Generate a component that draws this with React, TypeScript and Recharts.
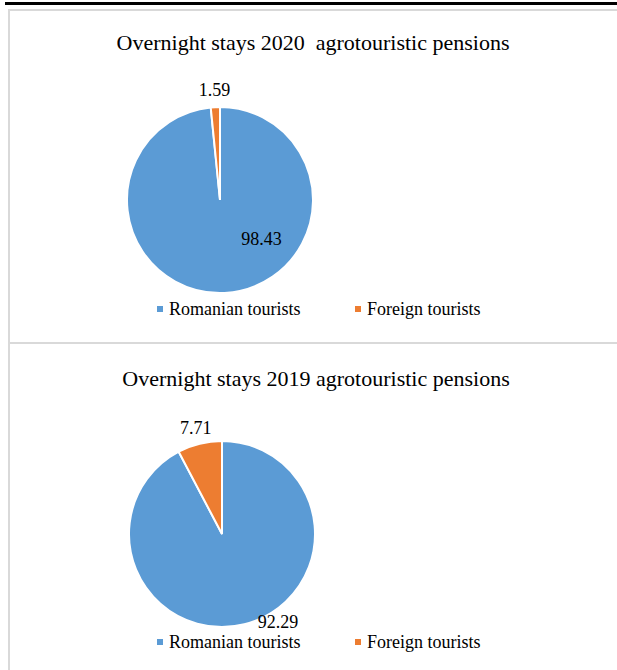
import { PieChart, Pie, Cell, Legend } from "recharts";

const CATEGORIES = ["Romanian tourists", "Foreign tourists"];
const STAYS_2020 = [98.43, 1.59];
const STAYS_2019 = [92.29, 7.71];
const COLORS = ["#5b9bd5", "#ed7d31"];

const FONT = '"Liberation Serif", "Times New Roman", serif';
const RAD = Math.PI / 180;

// label placement per slice: either along the slice's midAngle with a pixel offset
// outside the rim, or a fixed polar spot (Excel "best fit" look)
type Place = { offset?: number; angle?: number; r?: number };
const PLACE_2020: Place[] = [{ angle: -43, r: 0.61 }, { offset: 17 }];
const PLACE_2019: Place[] = [{ angle: -57.5, r: 1.12 }, { offset: 16 }];

const makeLabel = (place: Place[]) => (props: any) => {
  const { cx, cy, midAngle, outerRadius, index, value } = props;
  const p = place[index] ?? {};
  const a = p.angle ?? midAngle;
  const r = p.r != null ? outerRadius * p.r : outerRadius + (p.offset ?? 0);
  const x = cx + r * Math.cos(a * RAD);
  const y = cy - r * Math.sin(a * RAD);
  return (
    <text x={x} y={y} textAnchor="middle" dominantBaseline="central" fill="#000" fontSize={18} fontFamily={FONT}>
      {Number(value).toFixed(2)}
    </text>
  );
};

function LegendRow({ payload }: any) {
  // keep data order (recharts sorts legend items by name)
  const items = [...(payload ?? [])].sort(
    (a: any, b: any) => CATEGORIES.indexOf(a.value) - CATEGORIES.indexOf(b.value)
  );
  return (
    <div style={{ display: "flex", fontFamily: FONT, fontSize: 18, lineHeight: "20px", color: "#000" }}>
      {items.map((item: any, i: number) => (
        <div key={item.value} style={{ display: "flex", alignItems: "center", width: i === 0 ? 198 : "auto" }}>
          <span style={{ width: 6, height: 6, background: item.color, marginRight: 6, display: "inline-block" }} />
          <span>{item.value}</span>
        </div>
      ))}
    </div>
  );
}

function OvernightPie({ values, place, cx, cy, width, height }: any) {
  const data = CATEGORIES.map((name, i) => ({ name, value: values[i] }));
  return (
    <PieChart width={width} height={height} margin={{ top: 0, right: 0, bottom: 0, left: 0 }}>
      <Pie
        data={data}
        dataKey="value"
        nameKey="name"
        cx={cx}
        cy={cy}
        outerRadius={93}
        startAngle={90}
        endAngle={-270}
        stroke="#fff"
        strokeWidth={2}
        labelLine={false}
        label={makeLabel(place)}
        isAnimationActive={false}
      >
        {data.map((d, i) => (
          <Cell key={d.name} fill={COLORS[i]} />
        ))}
      </Pie>
      <Legend
        content={<LegendRow />}
        wrapperStyle={{ position: "absolute", left: 147, top: 288, width: 400, bottom: "auto" }}
      />
    </PieChart>
  );
}

const titleStyle = (top: number, width: number): React.CSSProperties => ({
  position: "absolute",
  top,
  left: 0,
  width,
  textAlign: "center",
  fontFamily: FONT,
  fontSize: 22,
  lineHeight: "22px",
  whiteSpace: "pre",
  color: "#000",
});

export default function App() {
  return (
    <div style={{ position: "absolute", left: 0, top: 0, width: 617, height: 670, background: "#fff", overflow: "hidden" }}>
      <div style={{ position: "absolute", left: 5, top: 2, width: 612, height: 3, background: "#000" }} />
      <div
        style={{
          position: "absolute",
          left: 8,
          top: 9,
          width: 640,
          height: 700,
          borderLeft: "2px solid #d9d9d9",
          borderTop: "2px solid #d9d9d9",
        }}
      />
      <div style={{ position: "absolute", left: 10, top: 342, width: 607, height: 2, background: "#d9d9d9" }} />

      <div style={{ position: "absolute", left: 10, top: 11 }}>
        <OvernightPie values={STAYS_2020} place={PLACE_2020} cx={210} cy={189} width={607} height={331} />
      </div>
      <div style={titleStyle(32, 626)}>{"Overnight stays 2020  agrotouristic pensions"}</div>

      <div style={{ position: "absolute", left: 10, top: 344 }}>
        <OvernightPie values={STAYS_2019} place={PLACE_2019} cx={212} cy={190} width={607} height={326} />
      </div>
      <div style={titleStyle(368, 632)}>{"Overnight stays 2019 agrotouristic pensions"}</div>
    </div>
  );
}
